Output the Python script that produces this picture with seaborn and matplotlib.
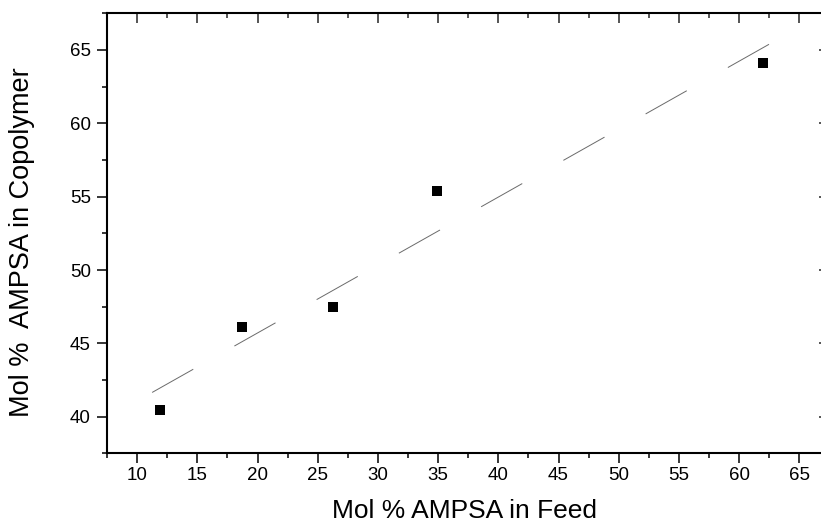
import numpy as np
import pandas as pd
import matplotlib
matplotlib.use("Agg")
import matplotlib.pyplot as plt
import seaborn as sns
from matplotlib.ticker import MultipleLocator

# Data
feed = [11.9, 18.7, 26.3, 34.9, 62.0]
copolymer = [40.44, 46.09, 47.45, 55.39, 64.09]
x_ticks = [10, 15, 20, 25, 30, 35, 40, 45, 50, 55, 60, 65]
y_ticks = [40, 45, 50, 55, 60, 65]
x_label = "Mol % AMPSA in Feed"
y_label = "Mol %  AMPSA in Copolymer"

sns.set_theme(style="white")
plt.rcParams['font.family'] = ['Liberation Sans', 'DejaVu Sans']

df = pd.DataFrame({"feed": feed, "copolymer": copolymer})

fig = plt.figure(figsize=(8.21, 5.25), dpi=100)
ax_w = 722.4
ax_h = 440.1
ax = fig.add_axes([107/821, (525-453.4)/525, ax_w/821, ax_h/525])

# Linear fit line
slope, intercept = np.polyfit(df["feed"], df["copolymer"], 1)
pad = 0.013 * (df["feed"].max() - df["feed"].min())
xf = np.linspace(df["feed"].min() - pad, df["feed"].max() + pad, 50)
fit = pd.DataFrame({"feed": xf, "copolymer": slope * xf + intercept})
lw = 0.7
sns.lineplot(data=fit, x="feed", y="copolymer", ax=ax, color="#6a6a6a",
             linewidth=lw, dashes=False)
ax.lines[-1].set_dashes((34 / lw, 34 / lw))

sns.scatterplot(data=df, x="feed", y="copolymer", ax=ax, marker="s",
                s=56, color="black", edgecolor="black", linewidth=0, zorder=3)

ax.set_xlim(7.5, 67.5)
ax.set_ylim(37.5, 67.5)
ax.set_xticks(x_ticks)
ax.set_yticks(y_ticks)
ax.xaxis.set_minor_locator(MultipleLocator(2.5))
ax.yaxis.set_minor_locator(MultipleLocator(2.5))

for s in ax.spines.values():
    s.set_visible(True)
    s.set_linewidth(1.5)
    s.set_color("black")

maj_len, min_len, tw = 7.2, 3.8, 1.1
ax.tick_params(axis="both", which="major", direction="out", length=maj_len,
               width=tw, color="black", labelsize=13.5,
               bottom=True, left=True, top=False, right=False)
ax.tick_params(axis="both", which="minor", direction="out", length=min_len,
               width=tw, color="black", bottom=True, left=True,
               top=False, right=False)
ax.tick_params(axis="x", which="major", pad=2.5)
ax.tick_params(axis="y", which="major", pad=4.5)

# inward ticks on top and right
axt = ax.secondary_xaxis("top")
axt.set_xticks(x_ticks)
axt.xaxis.set_minor_locator(MultipleLocator(2.5))
axt.tick_params(which="major", direction="in", length=maj_len, width=tw, labeltop=False)
axt.tick_params(which="minor", direction="in", length=min_len, width=tw)
axt.spines["top"].set_visible(False)
axr = ax.secondary_yaxis("right")
axr.set_yticks(y_ticks)
axr.yaxis.set_minor_locator(MultipleLocator(2.5))
axr.tick_params(which="major", direction="in", length=maj_len, width=tw, labelright=False)
axr.tick_params(which="minor", direction="in", length=min_len, width=tw)
axr.spines["right"].set_visible(False)

ax.set_xlabel(x_label, fontsize=19, color="black")
ax.set_ylabel(y_label, fontsize=19.5, color="black")
ax.xaxis.set_label_coords(0.495, (453.4 - 499.5) / ax_h)
ax.yaxis.set_label_coords((35 - 107) / ax_w, (453.4 - 242) / ax_h)
for t in ax.get_xticklabels() + ax.get_yticklabels():
    t.set_color("black")

fig.savefig("out.png", dpi=100)
